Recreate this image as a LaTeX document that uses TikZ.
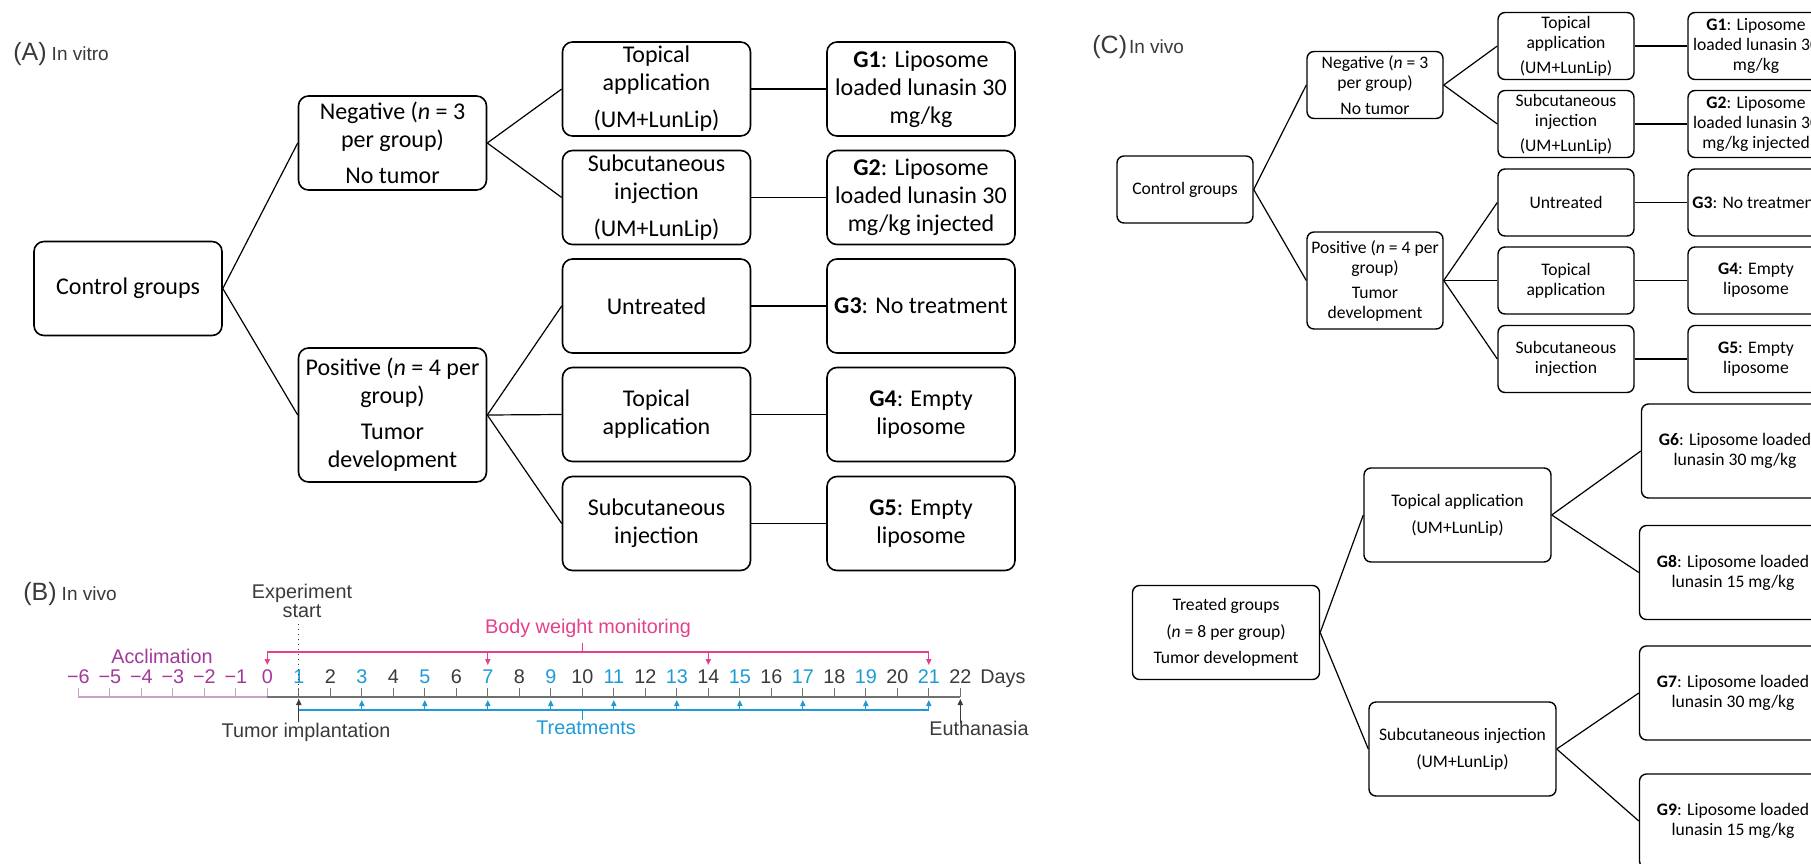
\documentclass[tikz,border=0pt]{standalone}
\usepackage{fontspec}
\setmainfont{Carlito}
\newfontfamily\helv{Liberation Sans}
\usetikzlibrary{arrows.meta}

\definecolor{txtgray}{HTML}{3A3A3A}
\definecolor{axisgray}{HTML}{707070}
\definecolor{accl}{HTML}{A3399A}
\definecolor{accllight}{HTML}{C9A2C4}
\definecolor{bodyw}{HTML}{E6408C}
\definecolor{treat}{HTML}{1E9BD7}

\begin{document}
\begin{tikzpicture}[x=0.5pt, y=-0.5pt,
  boxA/.style={rectangle, draw, line width=0.8pt, rounded corners=5pt,
    minimum width=94pt, minimum height=47pt, inner sep=0.5pt,
    align=center, font=\fontsize{12}{14}\selectfont},
  boxC/.style={rectangle, draw, line width=0.7pt, rounded corners=3.5pt,
    minimum width=68pt, minimum height=33.5pt, inner sep=0.5pt,
    align=center, font=\fontsize{8.8}{10}\selectfont},
  boxT/.style={boxC, minimum width=93.5pt, minimum height=47pt},
  link/.style={line width=0.6pt},
  panel/.style={anchor=base west, inner sep=0pt, text=txtgray, font=\helv},
  tl/.style={anchor=base, inner sep=0pt, font=\helv\fontsize{9.9}{11}\selectfont},
  tlline/.style={line width=0.6pt},
  arr/.style={-{Triangle[length=3pt, width=2.6pt]}},
]
\useasboundingbox (0,0) rectangle (1811,863);
\clip (0,0) rectangle (1811,863);
\fill[white] (0,0) rectangle (1811,863);

% (A) in vitro
\node[panel] (labA) at (13,60) {{\fontsize{12.5}{14}\selectfont(A)}\hspace{2.5pt}{\fontsize{9.5}{11}\selectfont In vitro}};

\node[boxA] (ctlA) at (128,288.5) {Control groups};
\node[boxA] (negA) at (392.5,143) {Negative (\textit{n} = 3\\per group)\\[4pt]No tumor};
\node[boxA, minimum height=67pt] (posA) at (392.5,415) {Positive (\textit{n} = 4 per\\group)\\[4pt]Tumor\\development};

\node[boxA] (topA)  at (656.5,89)    {Topical\\application\\[4.5pt](UM+LunLip)};
\node[boxA] (subA)  at (656.5,197.5) {Subcutaneous\\injection\\[4.5pt](UM+LunLip)};
\node[boxA] (untA)  at (656.5,306)   {Untreated};
\node[boxA] (topA2) at (656.5,414.5) {Topical\\application};
\node[boxA] (subA2) at (656.5,523.5) {Subcutaneous\\injection};

\node[boxA] (g1A) at (921,89)    {\textbf{G1}: Liposome\\loaded lunasin 30\\mg/kg};
\node[boxA] (g2A) at (921,197.5) {\textbf{G2}: Liposome\\loaded lunasin 30\\mg/kg injected};
\node[boxA] (g3A) at (921,306)   {\textbf{G3}: No treatment};
\node[boxA] (g4A) at (921,414.5) {\textbf{G4}: Empty\\liposome};
\node[boxA] (g5A) at (921,523.5) {\textbf{G5}: Empty\\liposome};

\draw[link] (ctlA.east) -- (negA.west);
\draw[link] (ctlA.east) -- (posA.west);
\draw[link] (negA.east) -- (topA.west);
\draw[link] (negA.east) -- (subA.west);
\foreach \m in {untA,topA2,subA2}
  \draw[link] (posA.east) -- (\m.west);
\foreach \m/\g in {topA/g1A,subA/g2A,untA/g3A,topA2/g4A,subA2/g5A}
  \draw[link] (\m.east) -- (\g.west);

% (B) timeline
\node[panel] (labB) at (23,600) {{\fontsize{12.5}{14}\selectfont(B)}\hspace{2.5pt}{\fontsize{9.5}{11}\selectfont In vivo}};

\foreach \d in {-6,...,22}{
  \pgfmathsetmacro{\dx}{267.3+31.5*\d}
  \ifnum\d<1 \def\numcol{accl}\def\tickcol{accllight}%
  \else\ifodd\d \def\numcol{treat}\else\def\numcol{txtgray}\fi\def\tickcol{axisgray}\fi
  \coordinate (t\d) at (\dx,697);
  \coordinate (bw\d) at (\dx,652);
  \coordinate (tr\d) at (\dx,710);
  \draw[\tickcol, tlline] (t\d) -- ++(0,-9);
  \node[tl, text=\numcol] (n\d) at (\dx,683) {\ifnum\d<0 −\the\numexpr-\d\relax\else\d\fi};
}
\draw[accllight, tlline] (t-6) -- (t0);
\draw[axisgray, tlline] (t0) -- (t22);
\node[tl, text=txtgray, anchor=base west] (dayslbl) at (980,683) {Days};

\node[tl, text=accl] (acclbl) at (162,663) {Acclimation};
\node[tl, text=bodyw] (bwlbl) at (588,633) {Body weight monitoring};
\node[tl, text=treat] (trlbl) at (586,734) {Treatments};
\node[tl, text=txtgray] (implbl) at (306,737) {Tumor implantation};
\node[tl, text=txtgray] (euthlbl) at (979,735) {Euthanasia};
\node[tl, text=txtgray] (explbl) at (302,598) {Experiment};
\node[tl, text=txtgray] (startlbl) at (302,617) {start};

\draw[bodyw, tlline] (bw0) -- (bw21);
\draw[bodyw, tlline] (bw10) -- ++(0,-9);
\foreach \d in {0,7,14,21}
  \draw[bodyw, tlline, arr] (bw\d) -- ++(0,13);

\draw[treat, tlline] (tr1) -- (tr21);
\draw[treat, tlline] (tr10) -- ++(0,10);
\foreach \d in {3,5,...,21}
  \draw[treat, tlline, arr] (tr\d) -- ++(0,-10);

\draw[txtgray, tlline, arr] (t1) ++(0,25) -- ++(0,-23);
\draw[txtgray, tlline, arr] (t22) ++(0,26) -- ++(0,-24);
\draw[txtgray, dotted, line width=0.5pt] (t1) ++(0,-73) -- ++(0,76);

% (C) in vivo
\node[panel] (labC) at (1092,53) {{\fontsize{12.5}{14}\selectfont(C)}\hspace{1pt}{\fontsize{9.5}{11}\selectfont In vivo}};

\node[boxC] (ctlC) at (1185,189.5) {Control groups};
\node[boxC] (negC) at (1375,85) {Negative (\textit{n} = 3\\per group)\\[3pt]No tumor};
\node[boxC, minimum height=48.5pt] (posC) at (1375,280.5) {Positive (\textit{n} = 4 per\\group)\\[2.5pt]Tumor\\development};

\node[boxC] (topC)  at (1566,46)    {Topical\\application\\[2.5pt](UM+LunLip)};
\node[boxC] (subC)  at (1566,124)   {Subcutaneous\\injection\\[2.5pt](UM+LunLip)};
\node[boxC] (untC)  at (1566,202.5) {Untreated};
\node[boxC] (topC2) at (1566,280.5) {Topical\\application};
\node[boxC] (subC2) at (1566,359)   {Subcutaneous\\injection};

\node[boxC] (g1C) at (1756,46)    {\textbf{G1}: Liposome\\loaded lunasin 30\\mg/kg};
\node[boxC] (g2C) at (1756,124)   {\textbf{G2}: Liposome\\loaded lunasin 30\\mg/kg injected};
\node[boxC] (g3C) at (1756,202.5) {\textbf{G3}: No treatment};
\node[boxC] (g4C) at (1756,280.5) {\textbf{G4}: Empty\\liposome};
\node[boxC] (g5C) at (1756,359)   {\textbf{G5}: Empty\\liposome};

\draw[link] (ctlC.east) -- (negC.west);
\draw[link] (ctlC.east) -- (posC.west);
\draw[link] (negC.east) -- (topC.west);
\draw[link] (negC.east) -- (subC.west);
\foreach \m in {untC,topC2,subC2}
  \draw[link] (posC.east) -- (\m.west);
\foreach \m/\g in {topC/g1C,subC/g2C,untC/g3C,topC2/g4C,subC2/g5C}
  \draw[link] (\m.east) -- (\g.west);

\node[boxT] (trtC) at (1226,632.5) {Treated groups\\[3.3pt](\textit{n} = 8 per group)\\[3.3pt]Tumor development};
\node[boxT] (topT) at (1457.5,515) {Topical application\\[3.5pt](UM+LunLip)};
\node[boxT] (subT) at (1462.5,749) {Subcutaneous injection\\[3.5pt](UM+LunLip)};

\node[boxT] (g6C) at (1735,451)   {\textbf{G6}: Liposome loaded\\lunasin 30 mg/kg};
\node[boxT] (g8C) at (1733,572.5) {\textbf{G8}: Liposome loaded\\lunasin 15 mg/kg};
\node[boxT] (g7C) at (1733,693)   {\textbf{G7}: Liposome loaded\\lunasin 30 mg/kg};
\node[boxT] (g9C) at (1733,821)   {\textbf{G9}: Liposome loaded\\lunasin 15 mg/kg};

\draw[link] (trtC.east) -- (topT.west);
\draw[link] (trtC.east) -- (subT.west);
\draw[link] (topT.east) -- (g6C.west);
\draw[link] (topT.east) -- (g8C.west);
\draw[link] (subT.east) -- (g7C.west);
\draw[link] (subT.east) -- (g9C.west);
\end{tikzpicture}
\end{document}
